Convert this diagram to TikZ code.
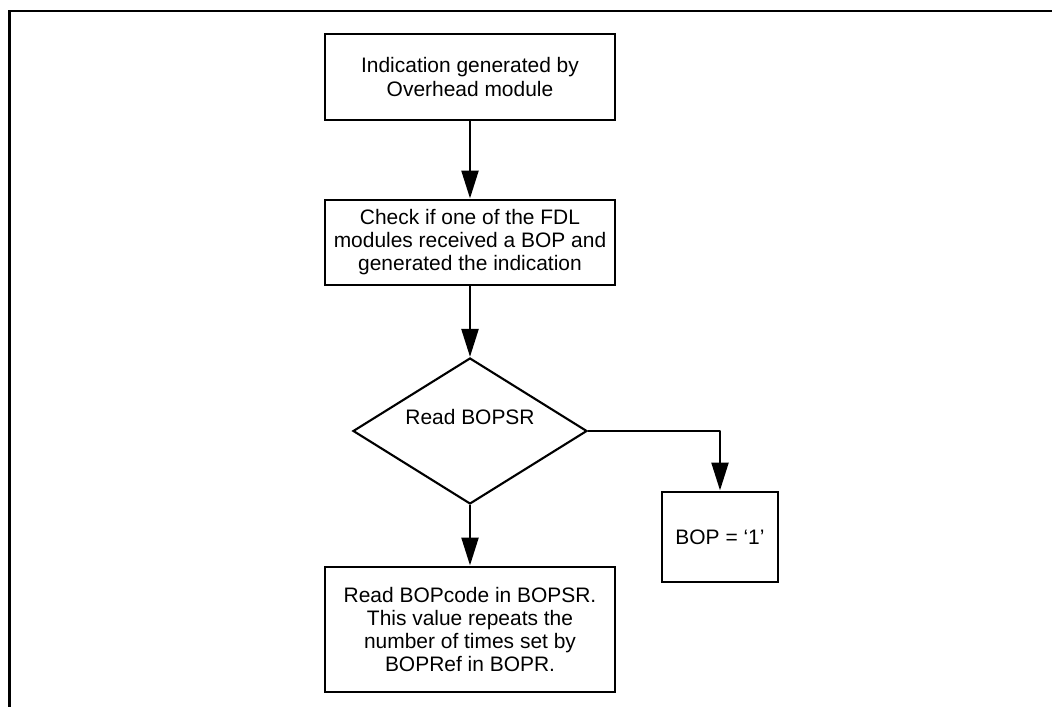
\documentclass[tikz,border=0pt]{standalone}
\usepackage{fontspec}
\setmainfont{Liberation Sans}
\usetikzlibrary{shapes.geometric, arrows.meta}

\begin{document}
\begin{tikzpicture}[
    procbox/.style={draw, line width=2.1pt, minimum width=7.25cm, align=center, inner sep=0pt},
    decision/.style={draw, diamond, line width=1.5pt, minimum width=5.85cm, minimum height=3.65cm, aspect=1.6, inner sep=0pt, text depth=0.7cm},
    flow/.style={line width=2.1pt, line join=round, -{Triangle[length=0.7cm, width=0.42cm]}},
    font=\fontsize{14.9}{16.4}\selectfont
]
    \useasboundingbox (0,0) rectangle (26.3,17.675);

    % Page frame (open to the right and below)
    \draw[line width=2.1pt] (0.2325,0) -- (0.2325,17.4) -- (26.3,17.4);

    % Process steps
    \node[procbox, minimum height=2.15cm] (ind) at (11.75,15.75) {Indication generated by\\Overhead module};
    \node[procbox, minimum height=2.125cm] (chk) at (11.75,11.6125) {Check if one of the FDL\\modules received a BOP and\\generated the indication};

    % Decision
    \node[decision] (rd) at (11.75,6.9) {Read BOPSR};

    % Outcomes
    \node[draw, line width=2.1pt, minimum width=2.9cm, minimum height=2.25cm, inner sep=0pt] (bop) at (18.0,4.25) {BOP = ‘1’};
    \node[procbox, minimum height=3.125cm] (code) at (11.75,1.9375) {Read BOPcode in BOPSR.\\This value repeats the\\number of times set by\\BOPRef in BOPR.};

    % Connectors
    \draw[flow] (ind.south) -- (chk.north);
    \draw[flow] (chk.south) -- (rd.north);
    \draw[flow] (rd.south) -- (code.north);
    \draw[flow] (rd.east) -| (bop.north);
\end{tikzpicture}
\end{document}
